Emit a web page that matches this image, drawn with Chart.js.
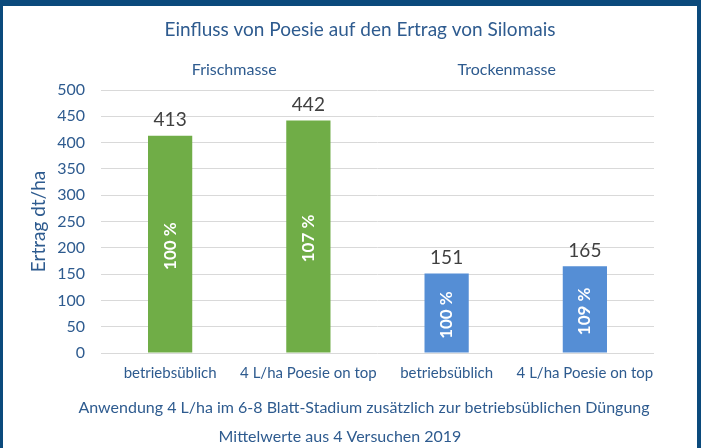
<!DOCTYPE html>
<html>
<head>
<meta charset="utf-8">
<script src="https://cdn.jsdelivr.net/npm/chart.js@4.4.1/dist/chart.umd.min.js"></script>
<style>
html, body { margin: 0; padding: 0; }
body { width: 701px; height: 448px; background: #0b4a7c; overflow: hidden; }
#wrap { position: absolute; left: 3px; top: 6px; width: 694px; height: 442px; background: #fff; }
</style>
</head>
<body>
<div id="wrap"><canvas id="chartOne" width="694" height="442"></canvas></div>
<script>
// Werte aus dem Bild
const kategorien = ['betriebsüblich', '4 L/ha Poesie on top', 'betriebsüblich', '4 L/ha Poesie on top'];
const ertrag = [413, 442, 151, 165];
const prozent = ['100 %', '107 %', '100 %', '109 %'];
const gruppen = ['Frischmasse', 'Trockenmasse'];
const titel = 'Einfluss von Poesie auf den Ertrag von Silomais';
const fussnoten = ['Anwendung 4 L/ha im 6-8 Blatt-Stadium zusätzlich zur betriebsüblichen Düngung', 'Mittelwerte aus 4 Versuchen 2019'];
const farben = ['#70ad47', '#70ad47', '#558ed5', '#558ed5'];

const blau = '#2e5b8f';
const schrift = 'Lato';

// Beschriftungen: Titel, Werte oben, Prozent im Balken, Gruppen oben, Fußnoten unten
const beschriftung = {
    id: 'beschriftung',
    afterDatasetsDraw(chart) {
        const ctx = chart.ctx;
        const meta = chart.getDatasetMeta(0);
        const x = chart.scales.x;
        ctx.save();
        meta.data.forEach((bar, i) => {
            ctx.fillStyle = '#404040';
            ctx.font = '19px ' + schrift;
            ctx.textAlign = 'center';
            ctx.textBaseline = 'bottom';
            ctx.fillText(String(ertrag[i]), bar.x, bar.y - 6);

            ctx.save();
            ctx.translate(bar.x, (bar.y + bar.base) / 2 + 2);
            ctx.rotate(-Math.PI / 2);
            ctx.fillStyle = '#ffffff';
            ctx.font = 'bold 17px ' + schrift;
            ctx.textBaseline = 'middle';
            ctx.fillText(prozent[i], 0, 0);
            ctx.restore();
        });
        ctx.fillStyle = blau;
        ctx.textAlign = 'center';
        ctx.textBaseline = 'middle';
        ctx.font = '19px ' + schrift;
        ctx.fillText(titel, 357, 24);
        ctx.font = '16px ' + schrift;
        const versatz = [-5, -9];
        gruppen.forEach((g, j) => {
            const mitte = (x.getPixelForValue(j * 2) + x.getPixelForValue(j * 2 + 1)) / 2;
            ctx.fillText(g, mitte + versatz[j], 64);
        });
        ctx.font = '16px ' + schrift;
        ctx.fillText(fussnoten[0], 361, 402);
        ctx.fillText(fussnoten[1], 337, 431);
        ctx.restore();
    }
};

var ctx = document.getElementById('chartOne').getContext('2d');
var chartOne = new Chart(ctx, {
    type: 'bar',
    data: {
        labels: kategorien,
        datasets: [{
            data: ertrag,
            backgroundColor: farben,
            borderWidth: 0,
            barPercentage: 0.32,
            categoryPercentage: 1
        }]
    },
    options: {
        responsive: false,
        animation: false,
        layout: { padding: { left: 0, right: 43, top: 84, bottom: 0 } },
        plugins: {
            legend: { display: false },
            tooltip: { enabled: false },
            title: { display: false }
        },
        scales: {
            x: {
                grid: { display: false },
                border: { display: false },
                ticks: { color: blau, font: { family: schrift, size: 15 }, padding: 3, maxRotation: 0, autoSkip: false },
                afterFit(s) { s.height = 95; }
            },
            y: {
                min: 0,
                max: 500,
                ticks: { stepSize: 50, color: blau, font: { family: schrift, size: 16 }, padding: 16 },
                grid: { color: '#d9d9d9', drawTicks: false },
                border: { display: false },
                title: { display: true, text: 'Ertrag dt/ha', color: blau, font: { family: schrift, size: 19 }, padding: { top: 24, bottom: 0 } },
                afterFit(s) { s.width = 98; }
            }
        }
    },
    plugins: [beschriftung]
});
</script>
</body>
</html>
